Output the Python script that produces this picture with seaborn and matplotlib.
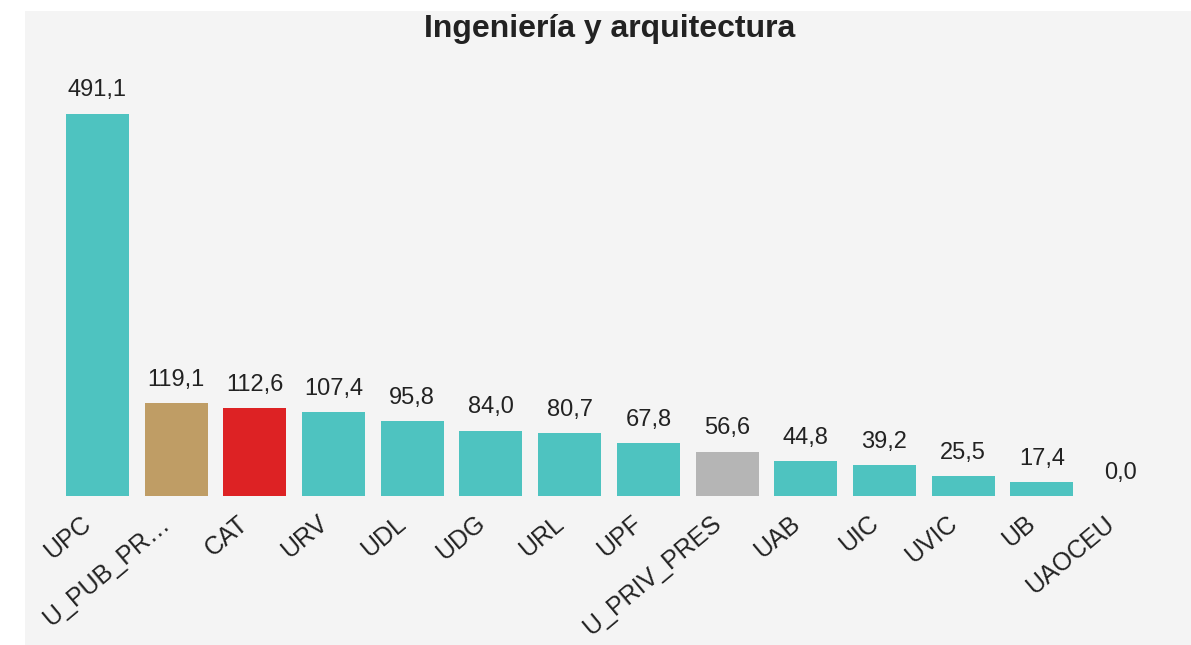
import seaborn as sns
import matplotlib.pyplot as plt
from matplotlib.patches import Rectangle
from matplotlib.transforms import ScaledTranslation

universities = ["UPC", "U_PUB_PR…", "CAT", "URV", "UDL", "UDG", "URL", "UPF",
                "U_PRIV_PRES", "UAB", "UIC", "UVIC", "UB", "UAOCEU"]
values = [491.1, 119.1, 112.6, 107.4, 95.8, 84.0, 80.7, 67.8,
          56.6, 44.8, 39.2, 25.5, 17.4, 0.0]
bar_colors = ["#4ec3c0", "#bf9d65", "#dd2224", "#4ec3c0", "#4ec3c0", "#4ec3c0",
              "#4ec3c0", "#4ec3c0", "#b5b5b5", "#4ec3c0", "#4ec3c0", "#4ec3c0",
              "#4ec3c0", "#4ec3c0"]


def main():
    sns.set_style("white")
    plt.rcParams['font.family'] = ['Liberation Sans', 'DejaVu Sans']

    fig = plt.figure(figsize=(11.91, 6.45), dpi=100, facecolor="white")
    fig.patches.append(Rectangle((25 / 1191, 0), 1 - 25 / 1191, 1 - 11 / 645,
                                 transform=fig.transFigure, facecolor="#f4f4f4",
                                 edgecolor="none", zorder=-10))
    ax = fig.add_axes([58 / 1191, 1 - 496 / 645, 1102 / 1191, 436 / 645])
    ax.set_facecolor("none")

    sns.barplot(x=universities, y=values, hue=universities, palette=bar_colors,
                legend=False, width=0.8, saturation=1, linewidth=0, ax=ax)

    ax.set_ylim(0, 560)
    ax.set_xlim(-0.5, len(universities) - 0.5)
    for i, v in enumerate(values):
        ax.annotate(f"{v:.1f}".replace(".", ","), (i, v), xytext=(0, 9),
                    textcoords="offset points", ha="center", va="bottom",
                    fontsize=17, color="#222222")

    ax.set_yticks([])
    ax.set_xlabel("")
    ax.set_ylabel("")
    ax.tick_params(axis="x", length=0, pad=6)
    ax.set_xticks(range(len(universities)))
    ax.set_xticklabels(universities, rotation=40, ha="right",
                       rotation_mode="anchor", fontsize=18, color="#222222")
    shift = ScaledTranslation(-17 / 100, -7 / 100, fig.dpi_scale_trans)
    for lbl in ax.get_xticklabels():
        lbl.set_transform(lbl.get_transform() + shift)
    for s in ax.spines.values():
        s.set_visible(False)

    fig.text(610 / 1191, 1 - 29 / 645, "Ingeniería y arquitectura",
             ha="center", va="center", fontsize=23, fontweight="bold",
             color="#222222")

    fig.savefig("out.png", dpi=100, facecolor="white")


if __name__ == "__main__":
    main()
